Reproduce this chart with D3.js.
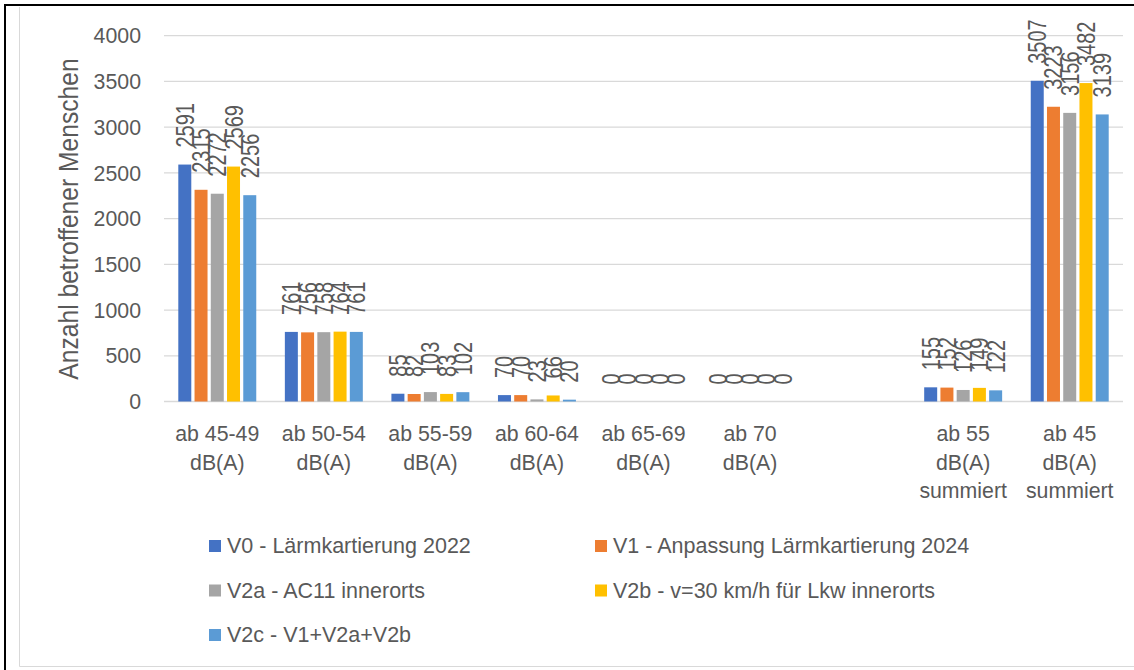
<!DOCTYPE html>
<html>
<head>
<meta charset="utf-8">
<script src="https://cdn.jsdelivr.net/npm/d3@7"></script>
<style>
  body { margin: 0; background: #fff; }
  text { font-family: "Liberation Sans", Arial, sans-serif; fill: #595959; }
</style>
</head>
<body>
<div id="chart"></div>
<script>
// categories (one empty slot between "ab 70" and the summed groups)
const categories = [
  ["ab 45-49", "dB(A)"],
  ["ab 50-54", "dB(A)"],
  ["ab 55-59", "dB(A)"],
  ["ab 60-64", "dB(A)"],
  ["ab 65-69", "dB(A)"],
  ["ab 70", "dB(A)"],
  [],
  ["ab 55", "dB(A)", "summiert"],
  ["ab 45", "dB(A)", "summiert"]
];
const seriesNames = [
  "V0 - Lärmkartierung 2022",
  "V1 - Anpassung Lärmkartierung 2024",
  "V2a - AC11 innerorts",
  "V2b - v=30 km/h für Lkw innerorts",
  "V2c - V1+V2a+V2b"
];
const colors = ["#4472C4", "#ED7D31", "#A5A5A5", "#FFC000", "#5B9BD5"];

const v0  = [2591, 761, 85, 70, 0, 0, null, 155, 3507];
const v1  = [2315, 756, 82, 70, 0, 0, null, 152, 3223];
const v2a = [2272, 758, 103, 23, 0, 0, null, 126, 3156];
const v2b = [2569, 764, 83, 66, 0, 0, null, 149, 3482];
const v2c = [2256, 761, 102, 20, 0, 0, null, 122, 3139];
const seriesValues = [v0, v1, v2a, v2b, v2c];

const yTicks = [0, 500, 1000, 1500, 2000, 2500, 3000, 3500, 4000];

const w = 1134;
const h = 670;
const plot = {left: 164, right: 1123, top: 35.7, bottom: 401.5};

const svg = d3.select("#chart").append("svg")
    .attr("width", w)
    .attr("height", h);

// frame
svg.append("path")
    .attr("d", "M5,670V5H1134")
    .attr("fill", "none")
    .attr("stroke", "#000")
    .attr("stroke-width", 2);
svg.append("path")
    .attr("d", "M19.5,7V666.5H1134")
    .attr("fill", "none")
    .attr("stroke", "#D9D9D9")
    .attr("stroke-width", 1);

const x0 = d3.scaleBand()
    .domain(d3.range(categories.length))
    .range([plot.left, plot.right]);

const x1 = d3.scaleBand()
    .domain(d3.range(seriesNames.length))
    .range([14.3, x0.bandwidth() - 14.3])
    .paddingInner(0.2);

const y = d3.scaleLinear()
    .domain([0, 4000])
    .range([plot.bottom, plot.top]);

// gridlines
svg.append("g")
  .selectAll("line")
  .data(yTicks)
  .enter()
  .append("line")
    .attr("x1", plot.left)
    .attr("x2", plot.right)
    .attr("y1", d => y(d))
    .attr("y2", d => y(d))
    .attr("stroke", "#D9D9D9")
    .attr("stroke-width", 1.3);

// y tick labels
svg.append("g")
  .selectAll("text")
  .data(yTicks)
  .enter()
  .append("text")
    .attr("x", 141)
    .attr("y", d => y(d))
    .attr("dy", "0.36em")
    .attr("text-anchor", "end")
    .style("font-size", "21.3px")
    .text(d => d);

// y title (narrowed a bit, like the original font)
svg.append("text")
    .attr("transform", "translate(68,219) rotate(-90) scale(0.9,1)")
    .attr("dy", "0.36em")
    .attr("text-anchor", "middle")
    .style("font-size", "27.4px")
    .text("Anzahl betroffener Menschen");

// bars
const bars = [];
seriesValues.forEach((vals, s) => {
  vals.forEach((v, c) => {
    if (v !== null) bars.push({s, c, v});
  });
});

svg.append("g")
  .selectAll("rect")
  .data(bars)
  .enter()
  .append("rect")
    .attr("x", d => x0(d.c) + x1(d.s))
    .attr("y", d => y(d.v))
    .attr("width", x1.bandwidth())
    .attr("height", d => y(0) - y(d.v))
    .attr("fill", d => colors[d.s]);

// value labels, rotated and condensed
svg.append("g")
  .selectAll("text")
  .data(bars)
  .enter()
  .append("text")
    .attr("transform", d => {
      const cx = x0(d.c) + x1(d.s) + x1.bandwidth() / 2;
      return `translate(${cx},${y(d.v) - 17}) rotate(-90) scale(0.8,1)`;
    })
    .attr("dy", "0.36em")
    .attr("text-anchor", "start")
    .style("font-size", "25px")
    .text(d => d.v);

// category labels
const catG = svg.append("g")
  .selectAll("text")
  .data(categories)
  .enter()
  .append("text")
    .attr("text-anchor", "middle")
    .style("font-size", "21.3px");

catG.selectAll("tspan")
  .data((d, i) => d.map(line => ({line, i})))
  .enter()
  .append("tspan")
    .attr("x", d => x0(d.i) + x0.bandwidth() / 2)
    .attr("y", (d, j) => 441 + j * 28.7)
    .text(d => d.line);

// legend
const legendPos = [[209, 553], [595, 553], [209, 597.5], [595, 597.5], [209, 642]];
const legend = svg.append("g")
  .selectAll("g")
  .data(seriesNames)
  .enter()
  .append("g")
    .attr("transform", (d, i) => `translate(${legendPos[i][0]},${legendPos[i][1]})`);

legend.append("rect")
    .attr("x", 0)
    .attr("y", -13)
    .attr("width", 12)
    .attr("height", 12)
    .attr("fill", (d, i) => colors[i]);

legend.append("text")
    .attr("x", 18)
    .attr("y", 0)
    .style("font-size", "21.5px")
    .text(d => d);
</script>
</body>
</html>
